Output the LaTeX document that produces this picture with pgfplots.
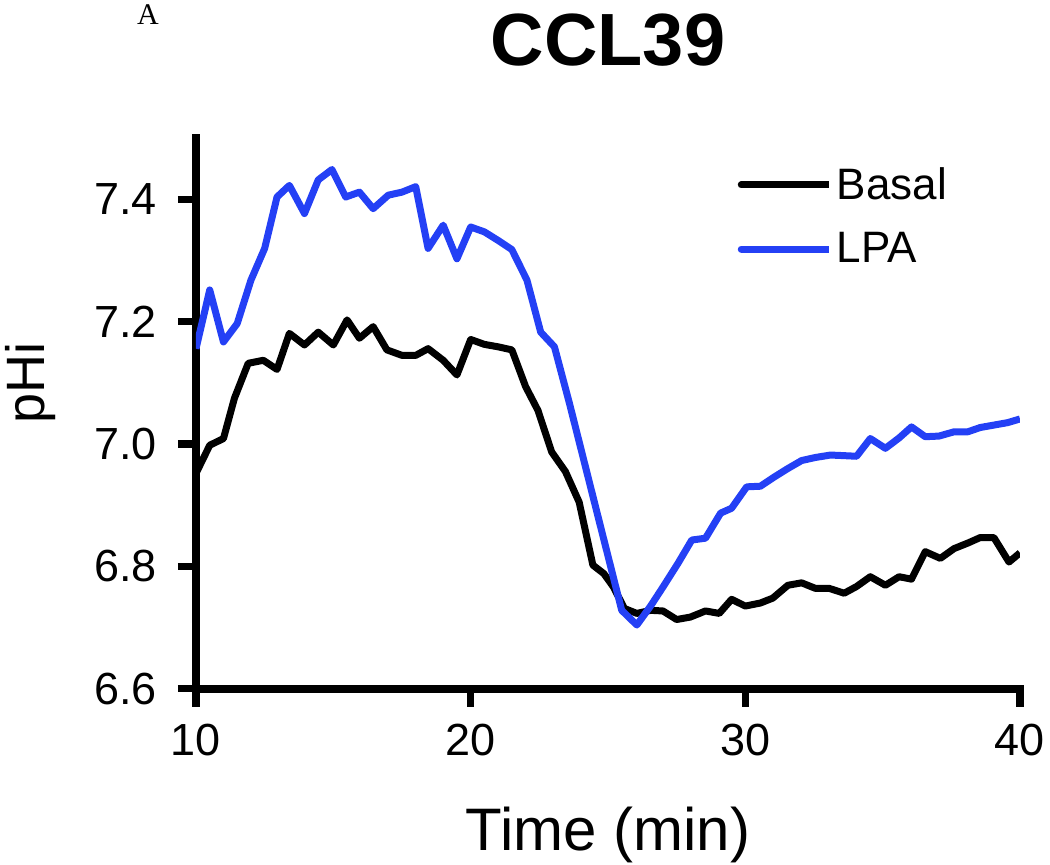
\documentclass[border=0pt]{standalone}
\usepackage{pgfplots}
\pgfplotsset{compat=1.18}
\usepackage{fontspec}
\setmainfont{Liberation Sans}
\newfontfamily\seriffont{Liberation Serif}
\definecolor{lpablue}{RGB}{36,64,245}

\pgfplotstableread{
x y
10.0 6.952
10.5 6.998
11.0 7.009
11.4 7.075
11.9 7.132
12.45 7.137
12.95 7.122
13.4 7.181
13.95 7.162
14.45 7.183
15.0 7.162
15.5 7.203
15.95 7.173
16.45 7.192
16.95 7.154
17.5 7.145
18.0 7.145
18.45 7.156
19.0 7.137
19.5 7.113
20.0 7.171
20.5 7.163
21.0 7.159
21.5 7.154
22.0 7.094
22.45 7.055
22.95 6.987
23.45 6.955
23.95 6.905
24.45 6.802
24.85 6.788
25.2 6.766
25.6 6.731
26.05 6.723
26.55 6.728
27.0 6.727
27.5 6.713
28.0 6.717
28.55 6.727
29.05 6.723
29.5 6.746
30.0 6.735
30.55 6.740
31.0 6.748
31.55 6.769
32.05 6.773
32.55 6.764
33.05 6.764
33.6 6.756
34.05 6.767
34.55 6.783
35.1 6.769
35.6 6.783
36.05 6.779
36.55 6.824
37.1 6.813
37.6 6.829
38.1 6.838
38.55 6.847
39.05 6.847
39.6 6.807
40.0 6.822
}\basal

\pgfplotstableread{
x y
10.0 7.156
10.5 7.252
11.0 7.167
11.5 7.197
12.0 7.268
12.5 7.320
12.95 7.404
13.4 7.423
13.95 7.377
14.45 7.432
14.95 7.449
15.45 7.404
15.95 7.412
16.45 7.385
17.0 7.407
17.5 7.412
18.0 7.421
18.45 7.320
19.0 7.358
19.5 7.303
20.0 7.355
20.5 7.347
21.0 7.333
21.5 7.318
22.05 7.268
22.55 7.183
23.05 7.159
23.6 7.066
24.1 6.977
24.6 6.888
25.05 6.808
25.5 6.728
26.05 6.704
26.55 6.735
27.0 6.766
27.55 6.805
28.05 6.843
28.55 6.846
29.1 6.887
29.5 6.895
30.05 6.930
30.55 6.931
31.05 6.946
31.55 6.960
32.05 6.973
32.55 6.978
33.1 6.982
33.6 6.981
34.05 6.980
34.55 7.009
35.1 6.993
35.6 7.010
36.05 7.028
36.55 7.012
37.05 7.013
37.6 7.020
38.1 7.020
38.55 7.027
39.05 7.031
39.55 7.035
40.0 7.041
}\lpa

\begin{document}
\begin{tikzpicture}
\useasboundingbox (-98pt,-87.7pt) rectangle (427pt,344.3pt);
\begin{axis}[
  at={(0,0)}, anchor=south west,
  scale only axis,
  width=412pt, height=275.15pt,
  xmin=10, xmax=40, ymin=6.6, ymax=7.5,
  xtick={10,20,30,40},
  ytick={6.6,6.8,7.0,7.2,7.4},
  axis x line*=bottom, axis y line*=left,
  axis line style={line width=4pt, line cap=rect},
  every tick/.style={line width=3.6pt, black},
  tick align=outside,
  major tick length=9pt,
  /pgf/number format/assume math mode=true,
  /pgf/number format/.cd, fixed, fixed zerofill, precision=1, /pgfplots/.cd,
  xticklabel style={/pgf/number format/precision=0, yshift=-5pt},
  yticklabel style={xshift=-7pt},
  ticklabel style={font=\fontsize{22.5}{27}\selectfont},
  xlabel={Time (min)},
  xlabel style={font=\fontsize{30}{36}\selectfont, at={(axis description cs:0.5,0)}, anchor=base, yshift=-80.7pt},
  ylabel={pHi},
  ylabel style={font=\fontsize{27}{32}\selectfont, at={(axis description cs:0,0.555)}, anchor=base, yshift=75.5pt},
  legend style={draw=none, fill=none, font=\fontsize{22}{26}\selectfont,
    at={(axis description cs:0.657,0.955)}, anchor=north west,
    row sep=11pt, inner sep=0pt},
  legend cell align=left,
  legend image code/.code={\draw[#1, line cap=round] (0pt,0pt) -- (35pt,0pt); \path (0pt,0pt) -- (44pt,0pt);},
]
\addplot[black, line width=3.5pt, line join=round] table[x=x,y=y] {\basal};
\addlegendentry{Basal}
\addplot[lpablue, line width=3.5pt, line join=round] table[x=x,y=y] {\lpa};
\addlegendentry{LPA}
\end{axis}
\node[anchor=base, font=\fontsize{37}{44}\selectfont\bfseries] at (206pt,311.8pt) {CCL39};
\node[anchor=base, font=\seriffont\fontsize{15}{18}\selectfont] at (-24pt,331.8pt) {A};
\end{tikzpicture}
\end{document}
